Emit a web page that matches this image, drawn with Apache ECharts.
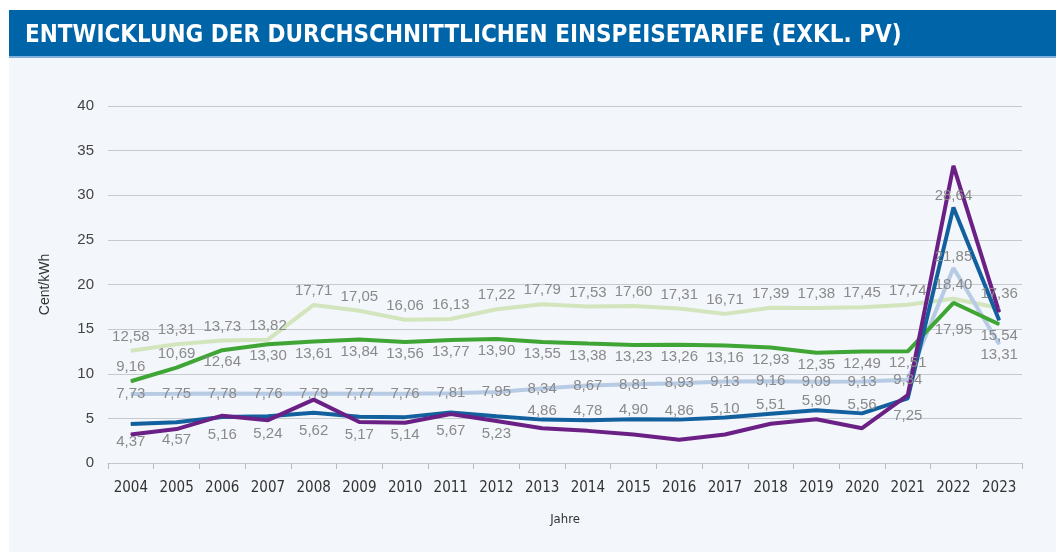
<!DOCTYPE html>
<html>
<head>
<meta charset="utf-8" />
<title>Einspeisetarife</title>
<script src="https://cdn.jsdelivr.net/npm/echarts@6/dist/echarts.min.js"></script>
<style>
  html, body { margin: 0; padding: 0; background: #ffffff; }
  #main { width: 1056px; height: 552px; }
</style>
</head>
<body>
<div id="main"></div>
<script>
// Jahre (x-Achse)
var jahre = ['2004', '2005', '2006', '2007', '2008', '2009', '2010', '2011', '2012', '2013',
  '2014', '2015', '2016', '2017', '2018', '2019', '2020', '2021', '2022', '2023'];
var yTicks = [0, 5, 10, 15, 20, 25, 30, 35, 40];

// Werte in Cent/kWh
var hellgruen = [12.58, 13.31, 13.73, 13.82, 17.71, 17.05, 16.06, 16.13, 17.22, 17.79,
  17.53, 17.60, 17.31, 16.71, 17.39, 17.38, 17.45, 17.74, 18.40, 17.36];
var gruen = [9.16, 10.69, 12.64, 13.30, 13.61, 13.84, 13.56, 13.77, 13.90, 13.55,
  13.38, 13.23, 13.26, 13.16, 12.93, 12.35, 12.49, 12.51, 17.95, 15.54];
var hellblau = [7.73, 7.75, 7.78, 7.76, 7.79, 7.77, 7.76, 7.81, 7.95, 8.34,
  8.67, 8.81, 8.93, 9.13, 9.16, 9.09, 9.13, 9.34, 21.85, 13.31];
var dunkelblau = [4.37, 4.57, 5.16, 5.24, 5.62, 5.17, 5.14, 5.67, 5.23, 4.86,
  4.78, 4.90, 4.86, 5.10, 5.51, 5.90, 5.56, 7.25, 28.64, 16.0];
// ohne Beschriftung, aus dem Bild geschaetzt
var lila = [3.2, 3.8, 5.3, 4.8, 7.1, 4.6, 4.5, 5.5, 4.7, 3.9,
  3.6, 3.2, 2.6, 3.2, 4.4, 4.9, 3.9, 7.6, 33.3, 16.9];

function fmt(p) {
  return p.value.toFixed(2).replace('.', ',');
}

// Datenpunkte mit eigener Label-Position bauen
function punkte(werte, lage) {
  return werte.map(function (v, i) {
    var l = lage(i);
    if (!l) return { value: v, label: { show: false } };
    return { value: v, label: { position: l[0], distance: l[1] } };
  });
}

function linie(name, werte, farbe, lage) {
  return {
    name: name,
    type: 'line',
    data: punkte(werte, lage),
    symbol: 'circle',
    symbolSize: 1,
    lineStyle: { color: farbe, width: 4 },
    itemStyle: { color: farbe },
    label: {
      show: true,
      formatter: fmt,
      color: '#8a8a8a',
      fontSize: 15,
      fontFamily: 'Liberation Sans'
    },
    emphasis: { disabled: true }
  };
}

var chart = echarts.init(document.getElementById('main'));

chart.setOption({
  backgroundColor: '#ffffff',
  animation: false,
  title: {
    text: 'ENTWICKLUNG DER DURCHSCHNITTLICHEN EINSPEISETARIFE (EXKL. PV)',
    left: 20,
    top: 19,
    textStyle: {
      color: '#ffffff',
      fontSize: 24,
      fontWeight: 'bold',
      fontFamily: 'DejaVu Sans Condensed'
    }
  },
  graphic: [
    { type: 'rect', z: -10, shape: { x: 9, y: 58, width: 1047, height: 494 }, style: { fill: '#f3f6fa' } },
    { type: 'rect', z: -10, shape: { x: 9, y: 10, width: 1047, height: 46 }, style: { fill: '#0064a8' } },
    { type: 'rect', z: -10, shape: { x: 9, y: 56, width: 1047, height: 2 }, style: { fill: '#7fb0dc' } }
  ],
  grid: { left: 108, right: 34, top: 106, bottom: 89 },
  xAxis: {
    type: 'category',
    data: jahre,
    boundaryGap: true,
    name: 'Jahre',
    nameLocation: 'middle',
    nameGap: 50,
    nameTextStyle: { color: '#333', fontSize: 13, fontFamily: 'DejaVu Sans Condensed' },
    axisLine: { lineStyle: { color: '#c4c8ce', width: 1 } },
    axisTick: { show: true, length: 6, lineStyle: { color: '#b8bcc2' } },
    axisLabel: { color: '#333', fontSize: 15, margin: 18, fontFamily: 'DejaVu Sans Condensed' }
  },
  yAxis: {
    type: 'value',
    min: yTicks[0],
    max: yTicks[yTicks.length - 1],
    interval: 5,
    name: 'Cent/kWh',
    nameLocation: 'middle',
    nameGap: 56,
    nameTextStyle: { color: '#333', fontSize: 14, fontFamily: 'Liberation Sans' },
    axisLine: { show: false },
    axisTick: { show: false },
    axisLabel: { color: '#444', fontSize: 15, margin: 14, fontFamily: 'Liberation Sans' },
    splitLine: { lineStyle: { color: '#c6cad0', width: 1 } }
  },
  series: [
    linie('hellgruen', hellgruen, '#d3e5bd', function (i) { return ['top', 6]; }),
    linie('hellblau', hellblau, '#b7cbe5', function (i) {
      if (i === 18) return ['top', 3];
      if (i === 19) return ['bottom', 3];
      return ['inside', 0];
    }),
    linie('gruen', gruen, '#3fa535', function (i) {
      if (i < 2) return ['top', 6];
      if (i === 18) return ['bottom', 19];
      return ['bottom', 4];
    }),
    linie('dunkelblau', dunkelblau, '#13609f', function (i) {
      if (i === 19) return null;
      if (i === 18) return ['top', 4];
      if (i >= 9 && i <= 16) return ['top', 1];
      return ['bottom', 10];
    }),
    linie('lila', lila, '#6a2085', function (i) { return null; })
  ]
});
</script>
</body>
</html>
